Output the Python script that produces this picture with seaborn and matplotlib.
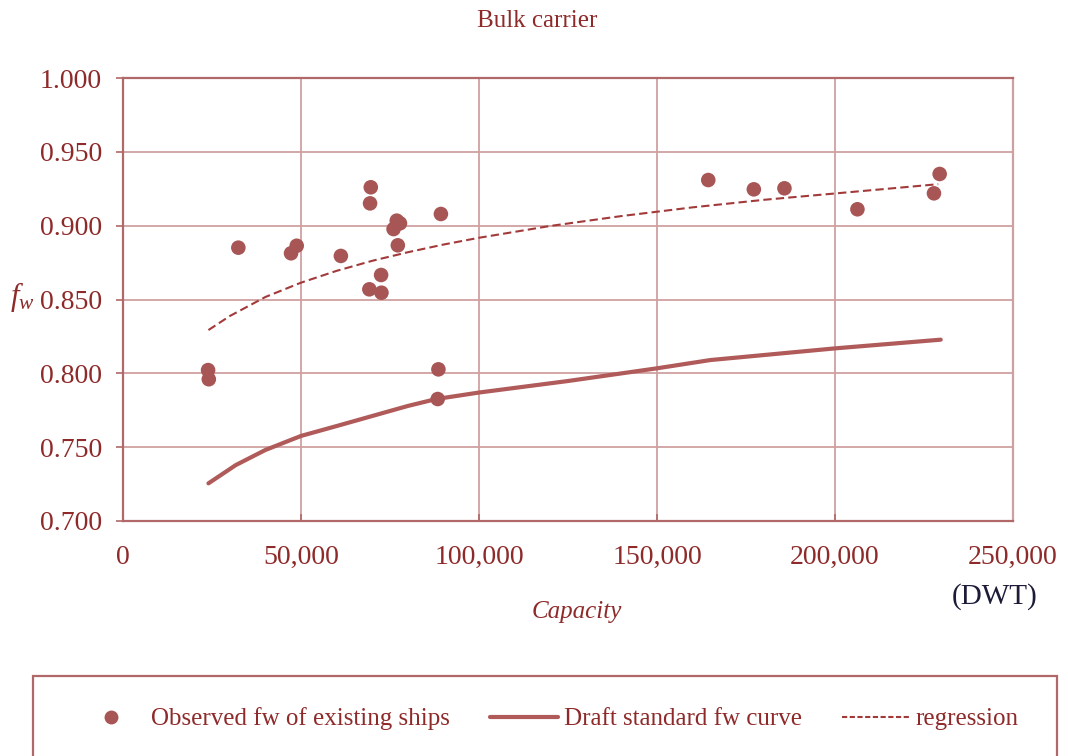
import matplotlib
matplotlib.use("Agg")
import matplotlib.pyplot as plt
from matplotlib.patches import Rectangle
from matplotlib.ticker import FuncFormatter
from matplotlib.lines import Line2D
import seaborn as sns
import pandas as pd

# Observed fw of existing bulk carriers (capacity in DWT, fw)
obs_dwt = [23900, 24100, 32400, 47200, 48800, 61200, 69600, 69400, 69200,
           72500, 72600, 76000, 76900, 77800, 77200, 89300, 88600, 88400,
           164400, 177200, 185800, 206300, 227800, 229400]
obs_fw = [0.8022, 0.7960, 0.8851, 0.8813, 0.8864, 0.8795, 0.9260, 0.9151, 0.8569,
          0.8666, 0.8546, 0.8977, 0.9034, 0.9016, 0.8867, 0.9079, 0.8027, 0.7826,
          0.9309, 0.9246, 0.9253, 0.9111, 0.9219, 0.9350]

# Draft standard fw curve
std_dwt = [24000, 31700, 40000, 50000, 60000, 70000, 80000, 88000, 100000,
           125000, 150000, 165000, 200000, 229700]
std_fw = [0.7255, 0.7379, 0.7481, 0.7576, 0.7643, 0.7711, 0.7779, 0.7826, 0.7870,
          0.7948, 0.8034, 0.8090, 0.8169, 0.8228]

# Regression curve through the observed points
reg_dwt = [24000, 30000, 40000, 50000, 60000, 70000, 80000, 90000, 100000,
           120000, 140000, 160000, 180000, 200000, 229000]
reg_fw = [0.8293, 0.8388, 0.8517, 0.8614, 0.8694, 0.8762, 0.8820, 0.8872, 0.8918,
          0.8998, 0.9065, 0.9124, 0.9175, 0.9218, 0.9281]

x_ticks = [0, 50000, 100000, 150000, 200000, 250000]
y_ticks = [0.700, 0.750, 0.800, 0.850, 0.900, 0.950, 1.000]

title = "Bulk carrier"
x_label = "Capacity"
x_unit = "(DWT)"
legend_labels = ["Observed fw of existing ships", "Draft standard fw curve", "regression"]

sns.set_theme(style="white")
plt.rcParams["font.family"] = ["Liberation Serif", "DejaVu Serif"]
plt.rcParams["mathtext.fontset"] = "custom"
plt.rcParams["mathtext.it"] = "Liberation Serif:italic"
plt.rcParams["mathtext.rm"] = "Liberation Serif"

text_red = "#8E2A2A"
marker_red = "#A85555"
line_red = "#B05A5A"
dash_red = "#A33A3A"
grid_col = "#CFA0A0"
spine_col = "#B06868"

fig = plt.figure(figsize=(10.68, 7.56), dpi=100)
ax = fig.add_axes([123 / 1068, 1 - 521 / 756, 890 / 1068, 443 / 756])

obs = pd.DataFrame({"dwt": obs_dwt, "fw": obs_fw})
std = pd.DataFrame({"dwt": std_dwt, "fw": std_fw})
reg = pd.DataFrame({"dwt": reg_dwt, "fw": reg_fw})

sns.lineplot(data=std, x="dwt", y="fw", ax=ax, color=line_red, linewidth=3.0,
             sort=False, zorder=3)
sns.lineplot(data=reg, x="dwt", y="fw", ax=ax, color=dash_red, linewidth=1.5,
             sort=False, zorder=3)
ax.lines[-1].set_dashes((4, 2))
sns.scatterplot(data=obs, x="dwt", y="fw", ax=ax, color=marker_red, s=110,
                edgecolor="none", zorder=4)

ax.set_xlim(0, 250000)
ax.set_ylim(0.700, 1.000)
ax.set_xticks(x_ticks)
ax.set_yticks(y_ticks)
ax.xaxis.set_major_formatter(FuncFormatter(lambda v, p: f"{int(v):,}"))
ax.yaxis.set_major_formatter(FuncFormatter(lambda v, p: f"{v:.3f}"))
ax.set_xlabel("")
ax.set_ylabel("")

ax.grid(True, color=grid_col, linewidth=1.3)
ax.set_axisbelow(True)
for side, sp in ax.spines.items():
    sp.set_visible(True)
    sp.set_color(spine_col)
    sp.set_linewidth(1.6)
ax.spines["right"].set_color(grid_col)

ax.tick_params(axis="y", direction="out", length=5, width=1.2, color=spine_col,
               pad=10, labelsize=20, labelcolor=text_red, left=True)
ax.tick_params(axis="x", direction="in", length=5, width=1.2, color=spine_col,
               pad=17, labelsize=20, labelcolor=text_red, bottom=True)

fig.text(537 / 1068, 1 - 21 / 756, title, ha="center", va="center",
         fontsize=18, color=text_red)
fig.text(577 / 1068, 1 - 612 / 756, x_label, ha="center", va="center",
         fontsize=18, color=text_red, style="italic")
fig.text(995 / 1068, 1 - 597 / 756, x_unit, ha="center", va="center",
         fontsize=21, color="#1C1C38")
fig.text(22 / 1068, 1 - 297 / 756, r"$f_{w}$", ha="center", va="center",
         fontsize=22, color=text_red)

# Legend box running off the bottom edge
fig.patches.append(Rectangle((33 / 1068, -0.05), (1057 - 33) / 1068, 0.05 + 1 - 676 / 756,
                             transform=fig.transFigure, fill=False,
                             edgecolor=spine_col, linewidth=1.6))

handles = [
    Line2D([], [], linestyle="none", marker="o", markersize=10,
           markerfacecolor=marker_red, markeredgecolor="none"),
    Line2D([], [], color=line_red, linewidth=3.0),
    Line2D([], [], color=dash_red, linewidth=1.5, dashes=(2.5, 1.2)),
]
leg = fig.legend(handles, legend_labels, loc="center",
                 bbox_to_anchor=(548 / 1068, 1 - 719 / 756), ncol=3, frameon=False,
                 fontsize=18, handlelength=2.7, handletextpad=0.25,
                 columnspacing=1.6)
for t in leg.get_texts():
    t.set_color(text_red)

fig.savefig("out.png", dpi=100)
